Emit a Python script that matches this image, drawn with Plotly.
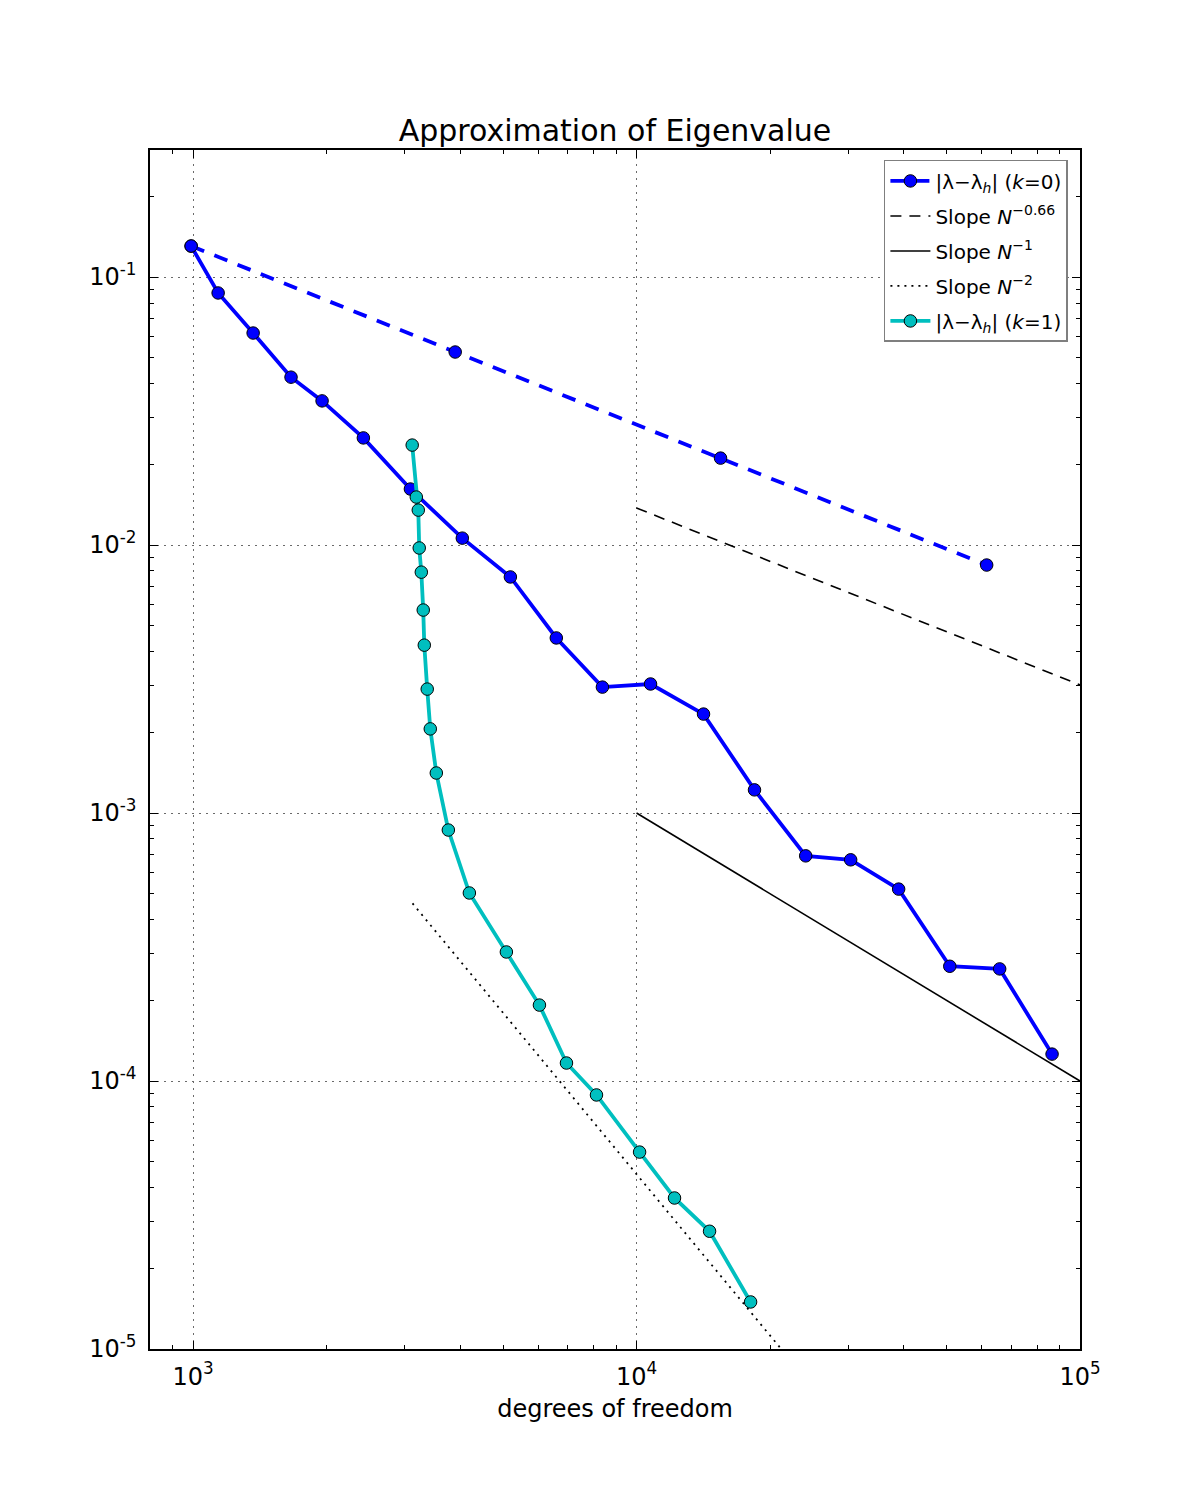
import plotly.graph_objects as go

# Solid blue (k=0 adaptive) series
k0_solid_x = [990, 1139, 1366, 1663, 1954, 2421, 3091, 4047, 5194, 6593, 8376,
              10755, 14160, 18450, 24070, 30400, 39000, 50860, 65900, 86500]
k0_solid_y = [0.1305, 0.0872, 0.0618, 0.0423, 0.0345, 0.0251, 0.01618, 0.01061,
              0.0076, 0.0045, 0.00295, 0.00303, 0.00234, 0.00122, 0.000692,
              0.000669, 0.000520, 0.000268, 0.000262, 0.000126]

# Dashed blue (k=0 uniform) series
k0_dash_x = [990, 3900, 15470, 61600]
k0_dash_y = [0.1305, 0.0525, 0.0211, 0.00842]

# Cyan (k=1) series
k1_x = [3120, 3187, 3220, 3236, 3271, 3304, 3322, 3373, 3427, 3536, 3764, 4198,
        5087, 6040, 6950, 8122, 10160, 12180, 14610, 18080]
k1_y = [0.0236, 0.0151, 0.0135, 0.00975, 0.00792, 0.00572, 0.00423, 0.00290,
        0.00206, 0.00141, 0.000864, 0.000503, 0.000303, 0.000192, 0.0001167,
        0.0000887, 0.0000543, 0.0000366, 0.0000275, 0.00001498]

# Reference slope lines
slope066_x = [1e4, 1e5]
slope066_y = [0.01374, 0.01374 * 10 ** -0.66]
slope1_x = [1e4, 1e5]
slope1_y = [1e-3, 1e-4]
slope2_x = [3125, 25000]
slope2_y = [4.6e-4, 4.6e-4 * (3125 / 25000) ** 2]

xtick_vals = [1e3, 1e4, 1e5]
xtick_text = ["10<sup>3</sup>", "10<sup>4</sup>", "10<sup>5</sup>"]
ytick_vals = [1e-5, 1e-4, 1e-3, 1e-2, 1e-1]
ytick_text = ["10<sup>-5</sup>", "10<sup>-4</sup>", "10<sup>-3</sup>",
              "10<sup>-2</sup>", "10<sup>-1</sup>"]
x_minor = [m * 10 ** e for e in (2, 3, 4) for m in range(2, 10)]
y_minor = [m * 10 ** e for e in (-5, -4, -3, -2, -1) for m in range(2, 10)]

XRANGE = [2.9029, 5.0]
YRANGE = [-5.0, -0.526]

BLUE = "#0000ff"
CYAN = "#00bfbf"

fig = go.Figure()

fig.add_trace(go.Scatter(
    x=k0_solid_x, y=k0_solid_y, mode="lines+markers", showlegend=False,
    line=dict(color=BLUE, width=3.8),
    marker=dict(size=12.5, color=BLUE, line=dict(color="black", width=1))))

fig.add_trace(go.Scatter(
    x=k0_dash_x, y=k0_dash_y, mode="lines+markers", legendgroup="g1",
    name="|λ−λ<sub><i>h</i></sub>| (<i>k</i>=0)",
    line=dict(color=BLUE, width=3.8, dash="14px,11px"),
    marker=dict(size=12.5, color=BLUE, line=dict(color="black", width=1))))

fig.add_trace(go.Scatter(
    x=slope066_x, y=slope066_y, mode="lines", legendgroup="g2",
    name="Slope <i>N</i><sup>−0.66</sup>",
    line=dict(color="black", width=1.6, dash="11px,8px")))

fig.add_trace(go.Scatter(
    x=slope1_x, y=slope1_y, mode="lines", legendgroup="g3",
    name="Slope <i>N</i><sup>−1</sup>",
    line=dict(color="black", width=1.6)))

fig.add_trace(go.Scatter(
    x=slope2_x, y=slope2_y, mode="lines", legendgroup="g4",
    name="Slope <i>N</i><sup>−2</sup>",
    line=dict(color="black", width=1.8, dash="2px,5px")))

fig.add_trace(go.Scatter(
    x=k1_x, y=k1_y, mode="lines+markers", legendgroup="g5",
    name="|λ−λ<sub><i>h</i></sub>| (<i>k</i>=1)",
    line=dict(color=CYAN, width=3.8),
    marker=dict(size=12.5, color=CYAN, line=dict(color="black", width=1))))

# empty trace to carry the minor-tick overlay axes
fig.add_trace(go.Scatter(x=[], y=[], xaxis="x2", yaxis="y2", showlegend=False,
                         hoverinfo="skip"))

axis_common = dict(
    showline=True, linecolor="black", linewidth=1.5, mirror="allticks",
    ticks="inside", ticklen=8, tickcolor="black", tickwidth=1,
    showgrid=True, gridcolor="#6a6a6a", griddash="2px,5px", gridwidth=1.2,
    zeroline=False, tickfont=dict(size=24, color="black"),
)

fig.update_layout(
    xaxis=dict(type="log", range=XRANGE, tickvals=xtick_vals, ticktext=xtick_text,
               ticklabelstandoff=5,
               title=dict(text="degrees of freedom",
                          font=dict(size=24, color="black"), standoff=11),
               **axis_common),
    yaxis=dict(type="log", range=YRANGE, tickvals=ytick_vals, ticktext=ytick_text,
               ticklabelstandoff=7, **axis_common),
    xaxis2=dict(type="log", range=XRANGE, overlaying="x", anchor="y2", side="bottom",
                tickvals=x_minor, showticklabels=False, ticks="inside", ticklen=4,
                tickcolor="black", tickwidth=1, mirror="allticks", showline=True,
                linecolor="black", linewidth=1.5, showgrid=False, zeroline=False),
    yaxis2=dict(type="log", range=YRANGE, overlaying="y", anchor="x2", side="left",
                tickvals=y_minor, showticklabels=False, ticks="inside", ticklen=4,
                tickcolor="black", tickwidth=1, mirror="allticks", showline=True,
                linecolor="black", linewidth=1.5, showgrid=False, zeroline=False),
    width=1200, height=1500,
    margin=dict(l=150, r=120, t=150, b=151),
    paper_bgcolor="white", plot_bgcolor="white",
    font=dict(family="DejaVu Sans", color="black"),
    title=dict(text="Approximation of Eigenvalue", x=0.5, xref="paper",
               y=1 - 130 / 1500, yanchor="middle",
               font=dict(size=30, color="black")),
    legend=dict(x=0.987, y=0.9917, xanchor="right", yanchor="top",
                bgcolor="white", bordercolor="#7f7f7f", borderwidth=1.5,
                font=dict(size=20, color="black"), tracegroupgap=6,
                itemwidth=40),
    showlegend=True,
)

fig.write_html("out.html")
